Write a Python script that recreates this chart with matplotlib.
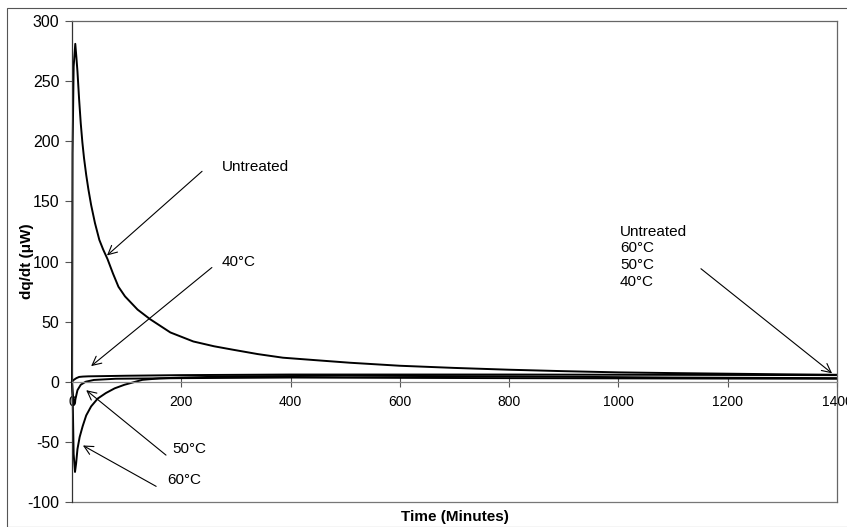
import matplotlib.pyplot as plt
from matplotlib.patches import Rectangle

plt.rcParams['font.family'] = ['Liberation Sans', 'DejaVu Sans']

# 读图估计的数据 (time in minutes, dq/dt in uW)
t_untreated = [0, 1, 3, 6, 8, 10, 13, 16, 19, 22, 26, 30, 35, 42, 50, 57, 65, 75, 85, 97, 120, 143,
               180, 222, 260, 295, 340, 386, 450, 509, 600, 700, 800, 900, 1000, 1100, 1200, 1300, 1400]
q_untreated = [0, 190, 262, 281, 270, 258, 235, 215, 199, 186, 172, 160, 147, 132, 118, 110, 102, 90, 79, 71, 60, 52,
               41, 33.5, 29.5, 26.6, 23, 20, 17.8, 15.8, 13.3, 11.5, 10, 8.8, 7.8, 7.2, 6.7, 6.2, 5.8]

t_40 = [0, 3, 8, 13, 20, 30, 100, 200, 400, 800, 1400]
q_40 = [0, 1.5, 3, 4, 4.3, 4.5, 5, 5.5, 6, 6, 5.5]

t_50 = [0, 1, 3.5, 6, 10, 16, 25, 40, 80, 200, 400, 800, 1400]
q_50 = [0, -8, -19, -15, -7, -2.5, 0, 1.5, 2.5, 3, 3.5, 3, 2.5]

t_60 = [0, 1.5, 3, 5.5, 7.5, 10, 14, 19.5, 26, 35, 47, 62, 78, 96, 112, 129, 160, 200, 300, 500, 800, 1100, 1400]
q_60 = [0, -20, -60, -75, -68, -56, -46, -37, -28, -20.5, -14, -9.4, -5.5, -2.5, -0.5, 1.6, 2.8, 3.5, 4.5, 5, 4.5, 3.5, 3]

x_ticks = [0, 200, 400, 600, 800, 1000, 1200, 1400]
y_ticks = [-100, -50, 0, 50, 100, 150, 200, 250, 300]

fig = plt.figure(figsize=(8.47, 5.27), dpi=100)
ax = fig.add_axes([72/847, 25/527, 765/847, 481/527])

# 外框
fig.patches.append(Rectangle((7/847, 0), 1.2, 1 - 8/527, transform=fig.transFigure,
                             fill=False, edgecolor='#555555', lw=0.8))

for t, q in [(t_untreated, q_untreated), (t_40, q_40), (t_50, q_50), (t_60, q_60)]:
    ax.plot(t, q, color='black', lw=1.4, clip_on=False)

ax.set_xlim(0, 1400)
ax.set_ylim(-100, 300)
ax.set_xticks(x_ticks)
ax.set_yticks(y_ticks)
ax.set_xticklabels([str(v) for v in x_ticks], fontsize=11.5)
ax.set_yticklabels([str(v) for v in y_ticks], fontsize=11.5)

ax.spines['bottom'].set_position(('data', 0))
ax.spines['bottom'].set_color('#888888')
ax.spines['top'].set_color('#666666')
ax.spines['right'].set_color('#666666')
ax.spines['left'].set_color('#333333')
for s in ax.spines.values():
    s.set_linewidth(0.9)
ax.axhline(-100, color='#777777', lw=0.9, clip_on=False)

ax.tick_params(axis='x', direction='inout', length=7, width=0.8, pad=6, colors='#555555', labelcolor='black')
ax.tick_params(axis='y', direction='out', length=5, width=0.8, pad=4, colors='#555555', labelcolor='black')

ax.set_xlabel('Time (Minutes)', fontsize=11, fontweight='bold')
ax.set_ylabel('dq/dt (μW)', fontsize=11, fontweight='bold')
ax.xaxis.set_label_coords(0.5, -0.017)
ax.yaxis.set_label_coords(-0.05, 0.5)

arrow = dict(arrowstyle='->', lw=0.8, color='black', shrinkA=0, shrinkB=0, mutation_scale=16)
ax.annotate('', xy=(64, 105), xytext=(238, 175), arrowprops=arrow)
ax.text(274, 179, 'Untreated', fontsize=11, va='center', ha='left')
ax.annotate('', xy=(35, 13), xytext=(256, 95), arrowprops=arrow)
ax.text(273, 100, '40°C', fontsize=11, va='center', ha='left')
ax.annotate('', xy=(26, -7), xytext=(172, -61), arrowprops=arrow)
ax.text(183, -56, '50°C', fontsize=11, va='center', ha='left')
ax.annotate('', xy=(20, -53), xytext=(154, -87), arrowprops=arrow)
ax.text(174, -82, '60°C', fontsize=11, va='center', ha='left')
ax.annotate('', xy=(1391, 7), xytext=(1151, 94), arrowprops=arrow)
ax.text(1003, 104, 'Untreated\n60°C\n50°C\n40°C', fontsize=11, va='center', ha='left', linespacing=1.25)

plt.savefig('out.png', dpi=100)
